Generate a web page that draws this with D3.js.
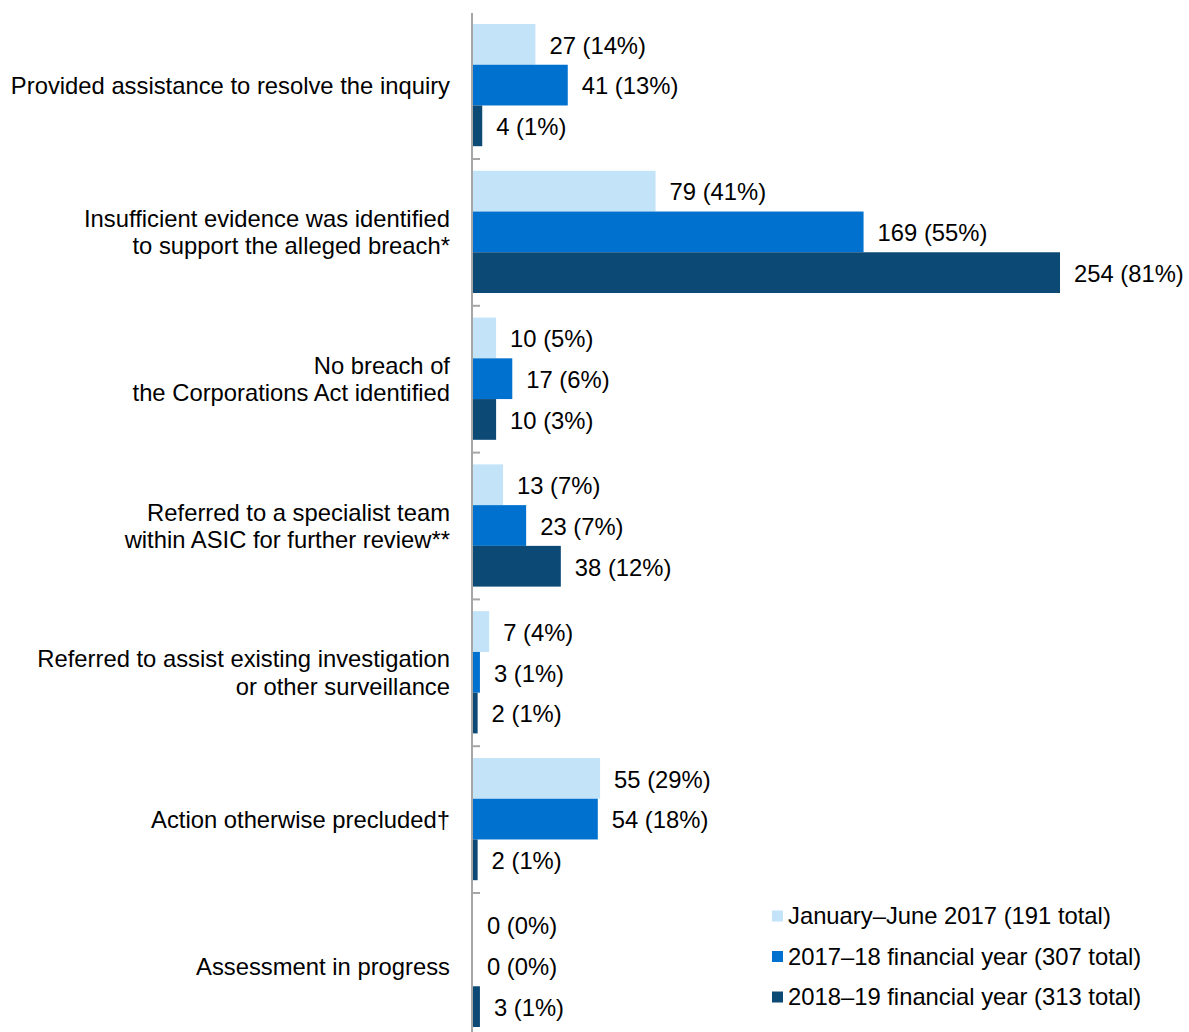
<!DOCTYPE html>
<html>
<head>
<meta charset="utf-8">
<script src="https://cdn.jsdelivr.net/npm/d3@7"></script>
<style>
  html, body { margin: 0; padding: 0; background: #fff; }
  svg { display: block; font-family: "Liberation Sans", Arial, sans-serif; }
</style>
</head>
<body>
<svg id="chart" width="1189" height="1032"></svg>
<script>
// Inquiry outcomes by period
const categories = [
  ["Provided assistance to resolve the inquiry"],
  ["Insufficient evidence was identified", "to support the alleged breach*"],
  ["No breach of", "the Corporations Act identified"],
  ["Referred to a specialist team", "within ASIC for further review**"],
  ["Referred to assist existing investigation", "or other surveillance"],
  ["Action otherwise precluded\u2020"],
  ["Assessment in progress"]
];
const seriesNames = [
  "January\u2013June 2017 (191 total)",
  "2017\u201318 financial year (307 total)",
  "2018\u201319 financial year (313 total)"
];
const seriesColors = ["#C3E3F9", "#0071CE", "#0C4A75"];
const counts2017H1 = [27, 79, 10, 13, 7, 55, 0];
const counts1718   = [41, 169, 17, 23, 3, 54, 0];
const counts1819   = [4, 254, 10, 38, 2, 2, 3];
const pct2017H1 = [14, 41, 5, 7, 4, 29, 0];
const pct1718   = [13, 55, 6, 7, 1, 18, 0];
const pct1819   = [1, 81, 3, 12, 1, 1, 1];

const counts = [counts2017H1, counts1718, counts1819];
const pcts = [pct2017H1, pct1718, pct1819];

const svg = d3.select("#chart");
const fontSize = 23.8;
const axisX = 472;

const catIdx = d3.range(categories.length);
const y = d3.scaleBand().domain(catIdx).range([12.2, 12.2 + 146.8 * 7]).padding(0);
const ySub = d3.scaleBand().domain(d3.range(3)).range([11.8, 134]).padding(0);
const x = d3.scaleLinear().domain([0, 254]).range([473, 1060]);

// bars and value labels
const groups = svg.selectAll("g.cat").data(catIdx).join("g")
  .attr("class", "cat")
  .attr("transform", i => `translate(0,${y(i)})`);

groups.each(function(ci) {
  const g = d3.select(this);
  const rows = d3.range(3).map(s => ({ s, v: counts[s][ci], p: pcts[s][ci] }));
  g.selectAll("rect").data(rows).join("rect")
    .attr("x", x(0))
    .attr("y", d => ySub(d.s))
    .attr("width", d => x(d.v) - x(0))
    .attr("height", ySub.bandwidth())
    .attr("fill", d => seriesColors[d.s]);
  g.selectAll("text.val").data(rows).join("text")
    .attr("class", "val")
    .attr("x", d => x(d.v) + 14)
    .attr("y", d => ySub(d.s) + ySub.bandwidth() / 2 + 1)
    .attr("dy", "0.35em")
    .attr("font-size", fontSize)
    .attr("fill", "#000")
    .text(d => `${d.v} (${d.p}%)`);
});

// category labels
svg.selectAll("text.cat").data(catIdx).join("text")
  .attr("class", "cat")
  .attr("text-anchor", "end")
  .attr("font-size", fontSize)
  .attr("fill", "#000")
  .each(function(ci) {
    const lines = categories[ci];
    const cy = y(ci) + y.bandwidth() / 2;
    const lh = 27.5;
    const t = d3.select(this);
    lines.forEach((ln, k) => {
      t.append("tspan")
        .attr("x", 450)
        .attr("y", cy + (k - (lines.length - 1) / 2) * lh)
        .attr("dy", "0.35em")
        .text(ln);
    });
  });

// vertical axis with group separators
svg.append("line")
  .attr("x1", axisX).attr("x2", axisX)
  .attr("y1", 13).attr("y2", 1032)
  .attr("stroke", "#A6A6A6").attr("stroke-width", 2);
svg.selectAll("line.tick").data(catIdx.slice(1)).join("line")
  .attr("class", "tick")
  .attr("x1", axisX).attr("x2", axisX + 8)
  .attr("y1", i => y(i)).attr("y2", i => y(i))
  .attr("stroke", "#A6A6A6").attr("stroke-width", 2);

// legend
const legend = svg.append("g").attr("transform", "translate(772,916)");
const items = legend.selectAll("g").data(seriesNames).join("g")
  .attr("transform", (d, i) => `translate(0,${i * 40.5})`);
items.append("rect")
  .attr("x", 0).attr("y", -5.5).attr("width", 11).attr("height", 11)
  .attr("fill", (d, i) => seriesColors[i]);
items.append("text")
  .attr("x", 16).attr("y", 0).attr("dy", "0.35em")
  .attr("font-size", fontSize).attr("fill", "#000")
  .text(d => d);
</script>
</body>
</html>
